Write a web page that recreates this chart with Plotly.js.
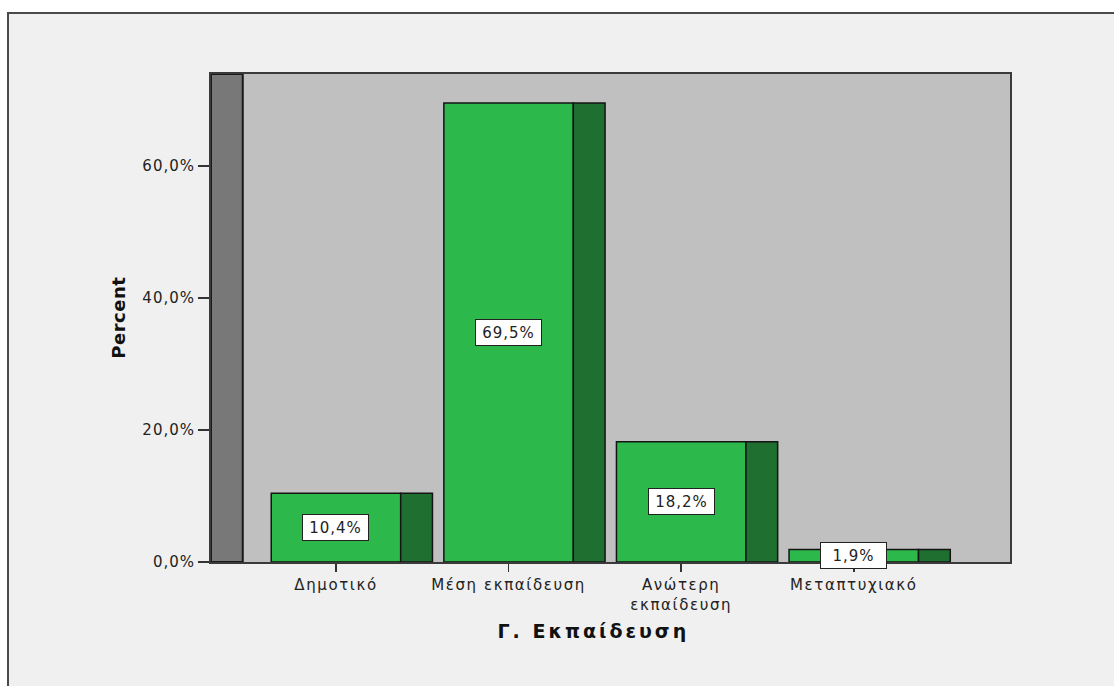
<!DOCTYPE html>
<html>
<head>
<meta charset="utf-8">
<script src="https://cdn.plot.ly/plotly-3.0.1.min.js"></script>
<style>
  html, body { margin: 0; padding: 0; background: #ffffff; width: 1114px; height: 686px; overflow: hidden; }
  #frame {
    position: absolute; left: 7px; top: 12px;
    width: 1107px; height: 674px;
    border-left: 2px solid #4a4a4a; border-top: 2px solid #4a4a4a;
    background: #f0f0f0;
  }
  #chart { width: 1105px; height: 672px; }
  /* wider tracking for the axis texts and value labels */
  #chart .xtick text { letter-spacing: 1.6px; }
  #chart .ytick text { letter-spacing: 1px; }
  #chart .annotation .annotation-text { letter-spacing: 1px; }
  #chart .annotation[data-index="4"] .annotation-text { letter-spacing: 3px; }
  #chart .annotation[data-index="5"] .annotation-text { letter-spacing: 0.5px; }
</style>
</head>
<body>
<div id="frame"><div id="chart"></div></div>
<script>
// Education level distribution (percent of respondents)
const categories = ["Δημοτικό", "Μέση εκπαίδευση", "Ανώτερη<br>εκπαίδευση", "Μεταπτυχιακό"];
const percents = [10.4, 69.5, 18.2, 1.9];
const yTicks = [0, 20, 40, 60];
const xTitle = 'Γ. Εκπαίδευση';
const yTitle = 'Percent';

const xPos = categories.map((_, i) => i);
const faceWidth = 0.75;   // front face of each bar (category units)
const depth = 0.184;      // pseudo-3D depth of bars and the back wall
const xRange = [-0.724, 3.905];
const yRange = [0, 73.9];

const fmt = v => v.toFixed(1).replace('.', ',') + '%';
const FAMILY = 'DejaVu Sans, Verdana, sans-serif';
const tickFont = { family: FAMILY, size: 15, color: '#222' };
const titleFont = s => ({ family: FAMILY, size: s, color: '#111', weight: 'bold' });

const front = {
  type: 'bar', x: xPos, y: percents,
  width: faceWidth, offset: -faceWidth / 2,
  marker: { color: '#2db84b', line: { color: '#141414', width: 1.5 } },
  hoverinfo: 'skip', showlegend: false
};
const side = {
  type: 'bar', x: xPos, y: percents,
  width: depth, offset: faceWidth / 2,
  marker: { color: '#1e6f30', line: { color: '#141414', width: 1.5 } },
  hoverinfo: 'skip', showlegend: false
};

// value labels, centred at half the bar height
const annotations = percents.map((v, i) => ({
  x: i, y: v / 2, xref: 'x', yref: 'y',
  text: fmt(v), showarrow: false,
  font: tickFont, bgcolor: '#ffffff',
  width: 63, height: 23,
  bordercolor: '#222', borderwidth: 1, borderpad: 1
}));

// axis titles
annotations.push({
  text: xTitle, xref: 'paper', yref: 'paper', x: 0.4793, y: 0,
  xanchor: 'center', yanchor: 'middle', yshift: -69,
  showarrow: false, font: titleFont(19)
});
annotations.push({
  text: yTitle, xref: 'paper', yref: 'paper', x: 0, y: 0.5,
  xanchor: 'center', yanchor: 'middle', xshift: -93, textangle: -90,
  showarrow: false, font: titleFont(18)
});

const layout = {
  width: 1105, height: 672,
  margin: { l: 202, r: 104, t: 60, b: 124 },
  paper_bgcolor: '#f0f0f0', plot_bgcolor: '#c0c0c0',
  barmode: 'overlay',
  xaxis: {
    range: xRange, tickvals: xPos, ticktext: categories,
    ticks: 'outside', ticklen: 8, tickwidth: 1.5, tickcolor: '#333',
    showgrid: false, zeroline: false,
    showline: true, mirror: true, linecolor: '#3a3a3a', linewidth: 2,
    tickfont: tickFont
  },
  yaxis: {
    range: yRange, tickvals: yTicks, ticktext: yTicks.map(fmt),
    ticks: 'outside', ticklen: 11, tickwidth: 1.5, tickcolor: '#333',
    showgrid: false, zeroline: false,
    showline: true, mirror: true, linecolor: '#3a3a3a', linewidth: 2,
    tickfont: tickFont
  },
  shapes: [{
    type: 'rect', layer: 'below',
    xref: 'x', yref: 'paper',
    x0: xRange[0], x1: xRange[0] + depth, y0: 0, y1: 1,
    fillcolor: '#787878', line: { color: '#1a1a1a', width: 2 }
  }],
  annotations: annotations
};

Plotly.newPlot('chart', [front, side], layout, { displayModeBar: false, staticPlot: true });
</script>
</body>
</html>
